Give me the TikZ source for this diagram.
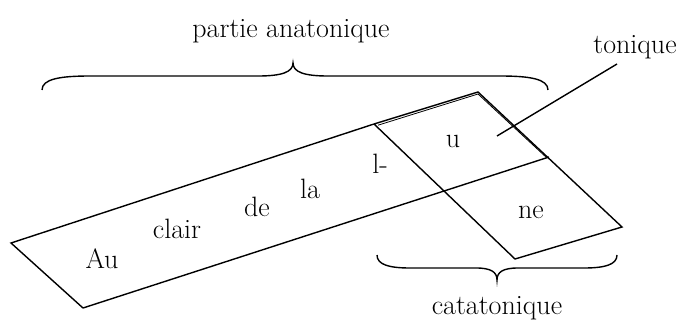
\documentclass[tikz,border=0pt]{standalone}
\usepackage{fontspec}
\usetikzlibrary{calc}
\begin{document}
\begin{tikzpicture}[x=1pt,y=-1pt,line width=1.4pt,
  lbl/.style={font=\fontsize{28}{32}\selectfont, inner sep=0pt},
  bracestyle/.style={line width=1.4pt}]
\useasboundingbox (0,0) rectangle (685,320);
% corners of the strip and the squares
\coordinate (L) at (11,243);
\coordinate (B) at (83,308);
\coordinate (J) at (374,124);
\coordinate (T) at (478,92);
\coordinate (M) at (549,157);
\coordinate (R) at (622,227);
\coordinate (D) at (515,259);
% outline
\draw (B) -- (L) -- (J) -- (T) -- (R) -- (D) -- (J);
\draw (B) -- (M);
% doubled strokes
\draw[line width=0.8pt] ($(J)+(4,1.2)$) -- ($(T)+(0,2)$) -- ($(M)+(-2,1)$);
% top brace
\draw[bracestyle] (42,90) .. controls (42,79) and (60,76) .. (90,76) -- (258,76)
  .. controls (282,76) and (293,72) .. (293,63)
  .. controls (293,72) and (304,76) .. (328,76) -- (500,76)
  .. controls (530,76) and (548,79) .. (548,90);
% bottom brace
\draw[bracestyle] (377,255) .. controls (377,265) and (390,268) .. (410,268) -- (476,268)
  .. controls (491,268) and (497,272) .. (497,280)
  .. controls (497,272) and (503,268) .. (518,268) -- (584,268)
  .. controls (604,268) and (617,265) .. (617,255);
% labels
\node[lbl] (pa) at (291,31) {partie anatonique};
\node[lbl] (ton) at (635,47) {tonique};
\node[lbl] (cat) at (497,308) {catatonique};
\node[lbl] (au) at (102,259) {Au};
\node[lbl] (clair) at (177,229) {clair};
\node[lbl] (de) at (257,207) {de};
\node[lbl] (la) at (310,189) {la};
\node[lbl] (l) at (380,164) {l-};
\node[lbl] (u) at (453,141) {u};
\node[lbl] (ne) at (531,212) {ne};
% leader
\coordinate (tonA) at (617,64);
\coordinate (tonB) at (497,136);
\draw (tonA) -- (tonB);
\end{tikzpicture}
\end{document}
